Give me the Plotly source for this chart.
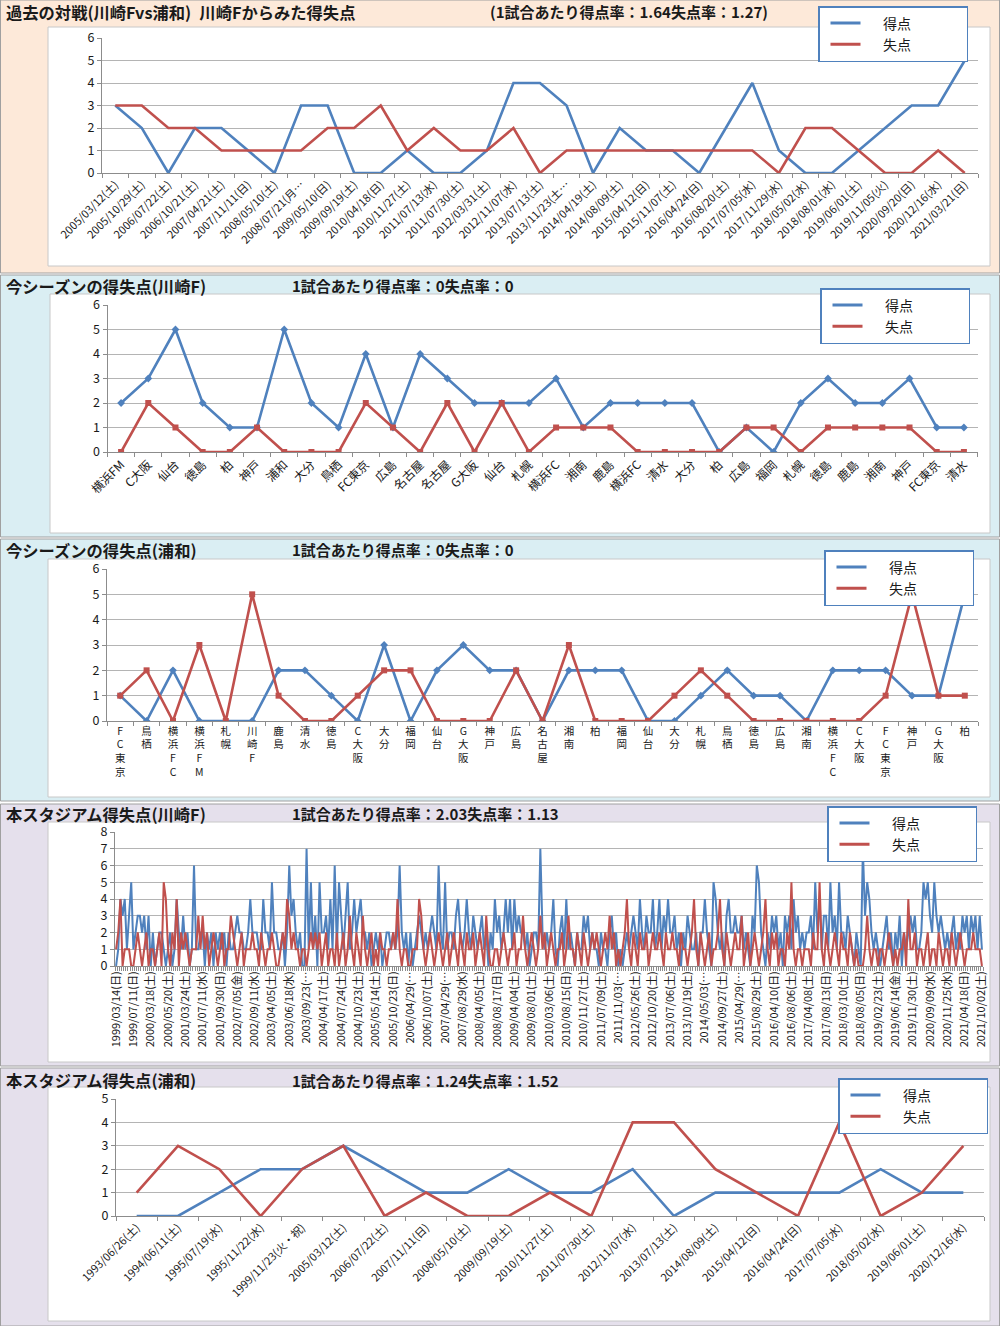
import plotly.graph_objects as go

W, H = 1000, 1326
BLUE = "#4F81BD"
RED = "#C0504D"
FONT = "Noto Sans CJK JP"
TXT = "#1a1a1a"
AXC = "#8c8c8c"
GRID = "#b4b4b4"


def X(s):
    return min(max(s / W, 0.0), 1.0)


def Y(s):
    return min(max(1 - s / H, 0.0), 1.0)


# ---------------- Panel 1 : 過去の対戦 ----------------
p1_labels = ["2005/03/12(土)", "2005/10/29(土)", "2006/07/22(土)", "2006/10/21(土)", "2007/04/21(土)",
             "2007/11/11(日)", "2008/05/10(土)", "2008/07/21(月…", "2009/05/10(日)", "2009/09/19(土)",
             "2010/04/18(日)", "2010/11/27(土)", "2011/07/13(水)", "2011/07/30(土)", "2012/03/31(土)",
             "2012/11/07(水)", "2013/07/13(土)", "2013/11/23(土…", "2014/04/19(土)", "2014/08/09(土)",
             "2015/04/12(日)", "2015/11/07(土)", "2016/04/24(日)", "2016/08/20(土)", "2017/07/05(水)",
             "2017/11/29(水)", "2018/05/02(水)", "2018/08/01(水)", "2019/06/01(土)", "2019/11/05(火)",
             "2020/09/20(日)", "2020/12/16(水)", "2021/03/21(日)"]
p1_for = [3, 2, 0, 2, 2, 1, 0, 3, 3, 0, 0, 1, 0, 0, 1, 4, 4, 3, 0, 2, 1, 1, 0, 2, 4, 1, 0, 0, 1, 2, 3, 3, 5]
p1_against = [3, 3, 2, 2, 1, 1, 1, 1, 2, 2, 3, 1, 2, 1, 1, 2, 0, 1, 1, 1, 1, 1, 1, 1, 1, 0, 2, 2, 1, 0, 0, 1, 0]

# ---------------- Panel 2 : 今シーズン(川崎F) ----------------
p2_labels = ["横浜FM", "C大阪", "仙台", "徳島", "柏", "神戸", "浦和", "大分", "鳥栖", "FC東京", "広島", "名古屋",
             "名古屋", "G大阪", "仙台", "札幌", "横浜FC", "湘南", "鹿島", "横浜FC", "清水", "大分", "柏", "広島",
             "福岡", "札幌", "徳島", "鹿島", "湘南", "神戸", "FC東京", "清水"]
p2_for = [2, 3, 5, 2, 1, 1, 5, 2, 1, 4, 1, 4, 3, 2, 2, 2, 3, 1, 2, 2, 2, 2, 0, 1, 0, 2, 3, 2, 2, 3, 1, 1]
p2_against = [0, 2, 1, 0, 0, 1, 0, 0, 0, 2, 1, 0, 2, 0, 2, 0, 1, 1, 1, 0, 0, 0, 0, 1, 1, 0, 1, 1, 1, 1, 0, 0]

# ---------------- Panel 3 : 今シーズン(浦和) ----------------
p3_labels = ["FC東京", "鳥栖", "横浜FC", "横浜FM", "札幌", "川崎F", "鹿島", "清水", "徳島", "C大阪", "大分",
             "福岡", "仙台", "G大阪", "神戸", "広島", "名古屋", "湘南", "柏", "福岡", "仙台", "大分", "札幌",
             "鳥栖", "徳島", "広島", "湘南", "横浜FC", "C大阪", "FC東京", "神戸", "G大阪", "柏"]
p3_for = [1, 0, 2, 0, 0, 0, 2, 2, 1, 0, 3, 0, 2, 3, 2, 2, 0, 2, 2, 2, 0, 0, 1, 2, 1, 1, 0, 2, 2, 2, 1, 1, 5]
p3_against = [1, 2, 0, 3, 0, 5, 1, 0, 0, 1, 2, 2, 0, 0, 0, 2, 0, 3, 0, 0, 0, 1, 2, 1, 0, 0, 0, 0, 0, 1, 5, 1, 1]

# ---------------- Panel 4 : 本スタジアム(川崎F) ----------------
p4_tick_labels = ["1999/03/14(日)", "1999/07/11(日)", "2000/03/18(土)", "2000/05/20(土)", "2001/03/24(土)",
                  "2001/07/11(水)", "2001/09/30(日)", "2002/07/05(金)", "2002/09/11(水)", "2003/04/05(土)",
                  "2003/06/18(水)", "2003/09/23(…", "2004/04/17(土)", "2004/07/24(土)", "2004/10/23(土)",
                  "2005/05/14(土)", "2005/10/23(日)", "2006/04/29(…", "2006/10/07(土)", "2007/04/29(…",
                  "2007/08/29(水)", "2008/04/05(土)", "2008/08/17(日)", "2009/04/04(土)", "2009/08/01(土)",
                  "2010/03/06(土)", "2010/08/15(日)", "2010/11/27(土)", "2011/07/09(土)", "2011/11/03(…",
                  "2012/05/26(土)", "2012/10/20(土)", "2013/07/06(土)", "2013/10/19(土)", "2014/05/03(…",
                  "2014/09/27(土)", "2015/04/29(…", "2015/08/29(土)", "2016/04/10(日)", "2016/08/06(土)",
                  "2017/04/08(土)", "2017/08/13(日)", "2018/03/10(土)", "2018/08/05(日)", "2019/02/23(土)",
                  "2019/06/14(金)", "2019/11/30(土)", "2020/09/09(水)", "2020/11/25(水)", "2021/04/18(日)",
                  "2021/10/02(土)"]
p4_label_step = 8
p4_for = [
    0, 1, 4, 3, 4, 1, 3, 5,  1, 2, 3, 3, 2, 3, 1, 3,  0, 2, 0, 1, 2, 2, 1, 0,  1, 2, 0, 1, 4, 2, 1, 3,
    1, 2, 0, 1, 6, 1, 1, 2,  2, 0, 2, 1, 2, 0, 2, 1,  2, 1, 2, 0, 2, 1, 1, 2,  3, 2, 2, 1, 1, 2, 4, 2,
    2, 2, 1, 1, 4, 2, 2, 1,  5, 2, 2, 1, 1, 2, 0, 2,  6, 3, 4, 2, 1, 2, 0, 0,  7, 1, 5, 1, 3, 0, 5, 2,
    2, 3, 1, 4, 1, 6, 1, 5,  3, 1, 3, 5, 1, 2, 4, 2,  3, 4, 2, 2, 1, 2, 0, 1,  2, 1, 2, 0, 1, 2, 2, 1,
    2, 1, 2, 6, 2, 1, 2, 0,  2, 0, 1, 2, 3, 2, 1, 2,  1, 2, 3, 2, 1, 6, 2, 1,  5, 1, 2, 2, 1, 3, 4, 2,
    1, 2, 4, 2, 1, 3, 2, 1,  2, 3, 1, 2, 0, 2, 1, 4,  2, 3, 1, 2, 4, 2, 4, 1,  4, 2, 3, 2, 2, 1, 2, 0,
    1, 2, 2, 1, 7, 2, 1, 2,  1, 2, 4, 1, 0, 2, 3, 1,  4, 1, 2, 1, 0, 2, 1, 1,  3, 2, 3, 1, 2, 1, 1, 0,
    2, 1, 1, 0, 2, 3, 1, 2,  0, 1, 0, 1, 2, 1, 2, 3,  2, 1, 4, 2, 1, 3, 2, 2,  4, 1, 2, 4, 1, 3, 2, 4,
    2, 2, 3, 1, 2, 0, 2, 1,  3, 2, 1, 1, 2, 0, 2, 2,  4, 2, 1, 0, 5, 4, 2, 1,  2, 0, 3, 4, 2, 2, 3, 2,
    2, 3, 1, 2, 1, 0, 3, 2,  6, 5, 2, 1, 0, 2, 1, 3,  2, 3, 1, 2, 0, 3, 2, 3,  1, 4, 2, 3, 1, 2, 1, 2,
    2, 3, 1, 5, 2, 4, 1, 3,  3, 1, 5, 2, 3, 1, 5, 2,  2, 1, 3, 2, 1, 0, 2, 1,  0, 7, 3, 5, 4, 2, 1, 2,
    1, 0, 1, 2, 3, 1, 2, 0,  2, 1, 3, 0, 2, 1, 2, 3,  2, 3, 1, 1, 2, 5, 4, 5,  3, 2, 5, 3, 2, 3, 2, 1,
    2, 1, 2, 3, 1, 2, 1, 3,  2, 3, 1, 3, 2, 3, 1, 3,  1]
p4_against = [
    1, 2, 4, 0, 1, 1, 1, 0,  0, 1, 2, 1, 0, 1, 2, 0,  1, 1, 0, 1, 2, 0, 5, 4,  1, 0, 2, 1, 4, 0, 2, 1,
    2, 1, 0, 1, 1, 1, 3, 1,  3, 1, 2, 0, 1, 2, 1, 0,  1, 2, 0, 1, 1, 3, 2, 1,  0, 1, 2, 0, 1, 1, 1, 2,
    1, 1, 0, 2, 1, 0, 1, 1,  2, 1, 0, 0, 1, 2, 1, 4,  3, 1, 2, 1, 1, 0, 1, 1,  0, 1, 2, 1, 2, 1, 2, 0,
    1, 2, 0, 1, 1, 0, 2, 0,  1, 2, 0, 1, 3, 1, 0, 2,  1, 0, 3, 1, 0, 1, 2, 0,  1, 0, 2, 1, 1, 0, 1, 1,
    2, 1, 4, 1, 0, 1, 1, 0,  0, 1, 1, 1, 4, 3, 1, 0,  1, 2, 1, 0, 1, 2, 1, 0,  1, 2, 0, 1, 2, 1, 0, 2,
    1, 0, 2, 1, 1, 2, 0, 1,  2, 1, 0, 3, 1, 0, 0, 1,  1, 0, 1, 2, 1, 0, 1, 1,  2, 0, 1, 1, 3, 1, 0, 1,
    2, 1, 0, 1, 3, 1, 2, 0,  1, 2, 1, 0, 1, 1, 2, 0,  1, 3, 1, 1, 0, 2, 1, 0,  2, 1, 0, 1, 2, 1, 2, 1,
    0, 1, 2, 1, 3, 1, 2, 0,  1, 0, 1, 2, 4, 1, 0, 2,  1, 0, 2, 1, 1, 2, 0, 1,  2, 1, 1, 2, 1, 0, 2, 1,
    1, 2, 1, 1, 0, 2, 1, 1,  0, 1, 2, 4, 1, 0, 2, 1,  0, 1, 2, 0, 1, 1, 2, 4,  1, 0, 2, 1, 0, 1, 2, 1,
    1, 3, 0, 1, 2, 0, 1, 2,  1, 0, 1, 2, 4, 1, 0, 2,  1, 2, 0, 1, 1, 0, 2, 1,  5, 1, 0, 1, 1, 0, 1, 1,
    1, 0, 2, 1, 1, 5, 1, 0,  2, 1, 0, 1, 2, 1, 0, 2,  1, 1, 0, 2, 1, 0, 1, 0,  0, 0, 1, 3, 1, 0, 1, 1,
    0, 1, 1, 0, 1, 2, 1, 0,  1, 0, 1, 1, 2, 0, 4, 1,  1, 2, 0, 1, 1, 0, 1, 2,  0, 1, 1, 0, 2, 1, 0, 1,
    1, 0, 2, 1, 0, 1, 2, 1,  0, 1, 1, 1, 2, 1, 1, 1,  0]

# ---------------- Panel 5 : 本スタジアム(浦和) ----------------
p5_labels = ["1993/06/26(土)", "1994/06/11(土)", "1995/07/19(水)", "1995/11/22(水)", "1999/11/23(火・祝)",
             "2005/03/12(土)", "2006/07/22(土)", "2007/11/11(日)", "2008/05/10(土)", "2009/09/19(土)",
             "2010/11/27(土)", "2011/07/30(土)", "2012/11/07(水)", "2013/07/13(土)", "2014/08/09(土)",
             "2015/04/12(日)", "2016/04/24(日)", "2017/07/05(水)", "2018/05/02(水)", "2019/06/01(土)",
             "2020/12/16(水)"]
p5_for = [0, 0, 1, 2, 2, 3, 2, 1, 1, 2, 1, 1, 2, 0, 1, 1, 1, 1, 2, 1, 1]
p5_against = [1, 3, 2, 0, 2, 3, 0, 1, 0, 0, 1, 0, 4, 4, 2, 1, 0, 4, 0, 1, 3]

series_names = ["得点", "失点"]

panels = [
    dict(title="過去の対戦(川崎Fvs浦和)\u2002川崎Fからみた得失点",
         rate="(1試合あたり得点率：1.64失点率：1.27)", rate_x=488,
         labels=p1_labels, step=1, f=p1_for, a=p1_against, ymax=6, angle=-45, tfs=11,
         markers=False, band=(0, 273), bandcol="#FDE9D9", box=(48, 27, 990, 266),
         plot=(102, 38, 978, 173), title_y=12, legend=(818, 6)),
    dict(title="今シーズンの得失点(川崎F)",
         rate="1試合あたり得点率：0失点率：0", rate_x=290,
         labels=p2_labels, step=1, f=p2_for, a=p2_against, ymax=6, angle=-45, tfs=12,
         markers=True, band=(275, 537), bandcol="#DAEEF3", box=(50, 294, 990, 533),
         plot=(107.5, 305, 977.5, 452), title_y=285.5, legend=(820, 288)),
    dict(title="今シーズンの得失点(浦和)",
         rate="1試合あたり得点率：0失点率：0", rate_x=290,
         labels=["<br>".join(list(s)) for s in p3_labels], step=1, f=p3_for, a=p3_against, ymax=6,
         angle=0, tfs=10.5,
         markers=True, band=(539, 801), bandcol="#DAEEF3", box=(48, 559, 990, 797),
         plot=(107, 569, 978, 721), title_y=549.5, legend=(824, 550)),
    dict(title="本スタジアム得失点(川崎F)",
         rate="1試合あたり得点率：2.03失点率：1.13", rate_x=290,
         labels=p4_tick_labels, step=p4_label_step, f=p4_for, a=p4_against, ymax=8, angle=-90, tfs=11,
         markers=False, band=(804, 1066), bandcol="#E5E0EC", box=(48, 822, 990, 1062),
         plot=(115, 832, 983, 966), title_y=813.5, legend=(827, 806)),
    dict(title="本スタジアム得失点(浦和)",
         rate="1試合あたり得点率：1.24失点率：1.52", rate_x=290,
         labels=p5_labels, step=1, f=p5_for, a=p5_against, ymax=5, angle=-45, tfs=11,
         markers=False, band=(1068, 1326), bandcol="#E5E0EC", box=(48, 1087, 990, 1321),
         plot=(116, 1099, 984, 1216), title_y=1080, legend=(838, 1078)),
]

fig = go.Figure()
shapes = []
annotations = []
layout = {}
PAD = "<span style='color:#ffffff'>得点得1</span>"

for k, p in enumerate(panels, start=1):
    sfx = "" if k == 1 else str(k)
    n = len(p["f"])
    xs = list(range(n))
    leg = "legend" if k == 1 else f"legend{k}"

    for vals, col, sym, nm in [(p["f"], BLUE, "diamond", series_names[0]),
                               (p["a"], RED, "square", series_names[1])]:
        fig.add_trace(go.Scatter(
            x=xs, y=vals, mode="lines+markers" if p["markers"] else "lines",
            line=dict(color=col, width=2.6 if k != 4 else 2.0),
            marker=dict(symbol=sym, size=6, color=col),
            xaxis="x" + sfx, yaxis="y" + sfx, showlegend=False, hoverinfo="skip"))
        fig.add_trace(go.Scatter(
            x=[None], y=[None], mode="lines", line=dict(color=col, width=3),
            name="\u2003\u2005" + nm + PAD, legend=leg, showlegend=True,
            xaxis="x" + sfx, yaxis="y" + sfx))

    x0, y0, x1, y1 = p["plot"]
    tickvals = list(range(0, n, p["step"]))
    layout["xaxis" + sfx] = dict(
        domain=[X(x0), X(x1)], anchor="y" + sfx, range=[-0.5, n - 0.5], automargin=False,
        tickmode="array", tickvals=tickvals, ticktext=p["labels"], ticks="",
        tickangle=p["angle"], tickfont=dict(size=p["tfs"], family=FONT, color=TXT),
        showline=True, linecolor=AXC, linewidth=1, showgrid=False, zeroline=False,
        minor=dict(tickmode="array", tickvals=[i - 0.5 for i in range(n + 1)], ticks="outside",
                   ticklen=4, tickcolor=AXC, tickwidth=1, showgrid=False),
        fixedrange=True)
    layout["yaxis" + sfx] = dict(
        domain=[Y(y1), Y(y0)], anchor="x" + sfx, range=[0, p["ymax"]], automargin=False,
        dtick=1, tick0=0, ticks="outside", ticklen=4, tickcolor=AXC,
        tickfont=dict(size=12.5, family=FONT, color=TXT),
        showline=True, linecolor=AXC, linewidth=1, showgrid=True, gridcolor=GRID, gridwidth=1,
        zeroline=False, fixedrange=True)

    lx, ly = p["legend"]
    layout[leg] = dict(
        x=X(lx), y=Y(ly), xanchor="left", yanchor="top", xref="paper", yref="paper",
        bgcolor="white", bordercolor=BLUE, borderwidth=1.5,
        font=dict(size=14, family=FONT, color=TXT), itemwidth=30, tracegroupgap=0,
        indentation=6)

    b0, b1 = p["band"]
    shapes.append(dict(type="rect", xref="paper", yref="paper", x0=0.0005, x1=0.9995,
                       y0=Y(b1), y1=Y(b0), fillcolor=p["bandcol"],
                       line=dict(color="#a0a0a0", width=1), layer="below"))
    bx0, by0, bx1, by1 = p["box"]
    shapes.append(dict(type="rect", xref="paper", yref="paper", x0=X(bx0), x1=X(bx1),
                       y0=Y(by1), y1=Y(by0), fillcolor="white",
                       line=dict(color="#c8c8c8", width=1), layer="below"))
    annotations.append(dict(x=X(4), y=Y(p["title_y"]), xref="paper", yref="paper",
                            xanchor="left", yanchor="middle", showarrow=False,
                            text="<b>" + p["title"] + "</b>",
                            font=dict(size=16.3, family=FONT, color=TXT)))
    annotations.append(dict(x=X(p["rate_x"]), y=Y(p["title_y"]), xref="paper", yref="paper",
                            xanchor="left", yanchor="middle", showarrow=False,
                            text="<b>" + p["rate"] + "</b>",
                            font=dict(size=15, family=FONT, color=TXT)))

fig.update_layout(
    width=W, height=H, margin=dict(l=0, r=0, t=0, b=0, autoexpand=False),
    paper_bgcolor="white", plot_bgcolor="rgba(0,0,0,0)",
    font=dict(family=FONT, color=TXT),
    shapes=shapes, annotations=annotations, **layout)

# remove the browser's default 8px page margin so the 1000x1326 figure fills the window
fig.write_html("out.html", config={"displayModeBar": False},
               post_script="document.body.style.margin='0px';")
